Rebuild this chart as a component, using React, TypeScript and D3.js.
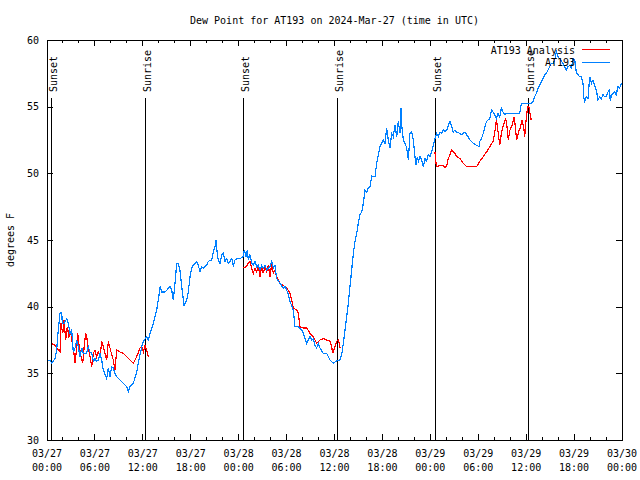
import React from "react";
import * as d3 from "d3";

// ---------- data ----------
const title = "Dew Point for AT193 on 2024-Mar-27 (time in UTC)";
const yLabel = "degrees F";
const startISO = "2024-03-27T00:00:00Z";
const endISO = "2024-03-30T00:00:00Z";
const yTicks = [30, 35, 40, 45, 50, 55, 60];

// hours since 03/27 00:00 UTC
const stationHours = [
  0.0, 0.38, 0.59, 1.0, 1.21, 1.41, 1.63, 1.84, 1.92, 2.13, 2.47, 2.67, 2.88, 3.09, 3.29, 3.51, 3.72, 3.92, 4.13, 4.35,
  4.55, 4.97, 5.17, 5.38, 5.6, 5.8, 6.01, 6.22, 6.42, 6.64, 6.85, 7.05, 7.48, 7.68, 7.89, 8.1, 8.3, 8.51, 8.73, 9.14,
  9.55, 9.98, 10.18, 10.39, 10.81, 11.23, 11.43, 11.86, 12.06, 12.48, 12.68, 12.9, 13.31, 13.74, 14.06, 14.15, 14.36, 14.78, 15.4, 15.61,
  15.82, 16.03, 16.24, 16.44, 16.65, 16.87, 17.16, 17.49, 17.69, 17.91, 18.12, 18.32, 18.75, 18.95, 19.16, 19.37, 19.57, 20.0, 20.2, 20.62,
  20.83, 21.04, 21.16, 21.32, 21.45, 21.66, 21.88, 22.08, 22.29, 22.5, 22.7, 22.92, 23.13, 23.33, 23.54, 23.75, 24.17, 24.58, 24.71, 24.92,
  25.08, 25.21, 25.42, 25.63, 25.83, 26.05, 26.26, 26.46, 26.67, 26.88, 27.08, 27.3, 27.51, 27.92, 28.14, 28.34, 28.55, 28.76, 29.17, 29.59,
  29.8, 30.01, 30.22, 30.43, 30.84, 31.05, 31.47, 31.89, 32.09, 32.52, 32.93, 33.14, 33.35, 33.56, 33.77, 33.97, 34.18, 34.6, 35.02, 35.22,
  35.44, 35.85, 36.28, 36.69, 36.9, 37.1, 37.32, 37.53, 37.73, 37.94, 38.15, 38.36, 38.57, 38.78, 38.98, 39.19, 39.41, 39.61, 39.82, 40.03,
  40.23, 40.45, 40.66, 41.07, 41.28, 41.49, 41.7, 41.91, 42.11, 42.32, 42.53, 42.73, 42.95, 43.16, 43.36, 43.57, 43.79, 43.99, 44.2, 44.33,
  44.45, 44.62, 44.83, 45.04, 45.25, 45.45, 45.66, 45.87, 46.08, 46.2, 46.37, 46.5, 46.71, 46.92, 47.12, 47.33, 47.54, 47.75, 47.96, 48.17,
  48.37, 48.58, 48.79, 49.0, 49.21, 49.42, 49.62, 49.84, 50.05, 50.46, 50.67, 50.87, 51.09, 51.3, 51.71, 51.91, 52.12, 52.33, 52.54, 52.74,
  52.96, 53.37, 53.79, 54.12, 54.2, 54.41, 54.62, 54.83, 55.04, 55.24, 55.45, 55.66, 55.86, 56.07, 56.28, 56.48, 56.69, 56.9, 57.1, 57.32,
  57.53, 57.94, 59.19, 59.4, 60.23, 60.65, 60.86, 61.07, 61.28, 61.49, 61.7, 61.91, 62.11, 62.32, 62.53, 62.73, 62.95, 63.16, 63.36, 63.57,
  63.79, 63.99, 64.2, 64.62, 64.83, 65.04, 65.24, 65.45, 65.66, 65.87, 66.08, 66.29, 66.49, 66.7, 66.91, 67.12, 67.2, 67.33, 67.54, 67.74,
  67.96, 68.17, 68.37, 68.62, 68.79, 68.99, 69.2, 69.41, 69.61, 69.82, 70.03, 70.24, 70.45, 70.53, 70.7, 70.86, 71.07, 71.28, 71.49, 71.7,
  71.95,
];
const stationValues = [
  35.9, 36.0, 35.75, 36.1, 36.75, 38.25, 39.5, 39.55, 38.75, 38.75, 39.1, 38.75, 38.0, 38.25, 36.6, 36.9, 37.5, 37.0, 36.25, 36.9,
  36.5, 36.5, 37.0, 36.6, 36.5, 35.9, 36.1, 35.9, 36.0, 36.5, 36.0, 35.25, 34.6, 35.4, 34.75, 35.5, 35.4, 35.0, 34.75, 34.5,
  34.25, 34.0, 33.6, 34.0, 34.25, 35.1, 35.75, 37.0, 37.4, 37.75, 37.5, 38.0, 38.75, 39.75, 41.0, 41.5, 41.1, 41.1, 41.5, 41.25,
  40.5, 41.75, 43.25, 43.25, 42.75, 41.5, 40.1, 40.5, 41.1, 42.25, 42.9, 43.1, 43.4, 43.1, 42.6, 43.0, 42.9, 43.1, 43.4, 43.5,
  44.1, 44.5, 45.0, 44.0, 43.5, 43.25, 43.9, 44.0, 43.4, 43.6, 43.25, 43.4, 43.6, 43.1, 43.5, 43.6, 43.6, 43.75, 44.25, 43.75,
  44.25, 43.5, 43.9, 43.25, 43.1, 43.4, 43.0, 43.1, 42.75, 43.1, 42.9, 43.1, 42.75, 43.0, 43.4, 42.9, 43.1, 42.1, 41.75, 41.4,
  41.5, 41.25, 40.9, 40.4, 39.75, 38.5, 38.5, 38.25, 38.0, 37.25, 37.75, 37.5, 37.6, 37.1, 36.9, 37.25, 36.9, 36.5, 36.5, 36.25,
  36.0, 35.75, 35.95, 36.0, 36.4, 37.25, 38.25, 39.25, 40.25, 41.5, 42.75, 44.0, 44.9, 45.5, 46.25, 46.9, 47.1, 47.75, 48.75, 48.6,
  48.9, 49.0, 49.8, 49.75, 50.75, 51.4, 52.0, 52.25, 52.5, 52.25, 53.4, 52.5, 51.9, 53.0, 52.75, 53.6, 52.75, 53.9, 53.0, 54.9,
  53.4, 52.5, 52.25, 51.9, 51.0, 53.0, 53.1, 52.5, 51.25, 50.6, 51.25, 50.9, 51.25, 51.0, 50.5, 51.1, 50.9, 51.4, 51.25, 51.6,
  52.1, 52.6, 53.0, 52.75, 53.1, 53.0, 53.25, 53.1, 53.25, 53.9, 53.5, 53.1, 53.25, 53.1, 53.0, 52.9, 53.0, 53.1, 52.9, 52.75,
  52.5, 52.25, 52.1, 52.0, 52.4, 52.6, 53.0, 53.5, 53.9, 54.0, 54.1, 54.75, 54.6, 54.4, 54.1, 54.5, 54.25, 54.9, 54.6, 54.4,
  54.5, 54.5, 54.5, 55.25, 55.25, 55.25, 55.4, 55.75, 56.0, 56.4, 56.6, 56.9, 57.1, 57.4, 57.5, 57.75, 58.0, 58.25, 58.25, 58.5,
  59.1, 58.75, 58.6, 58.25, 58.0, 57.75, 58.0, 58.1, 57.9, 58.6, 58.5, 57.5, 57.4, 57.25, 57.25, 56.75, 55.75, 55.4, 55.75, 55.6,
  57.25, 56.75, 57.0, 56.5, 56.25, 55.5, 55.75, 55.6, 55.9, 55.75, 55.75, 56.1, 56.25, 55.4, 55.9, 56.0, 56.1, 55.9, 56.5, 56.4,
  56.75,
];

// analysis series (null = gap)
const analysisHours = [
  0.59, 1.0, 1.21, 1.41, 1.63, 1.75, 1.97, 2.13, 2.34, 2.54, 2.75, 2.97, 3.17, 3.38, 3.51, 3.72, 3.84, 4.04, 4.26, 4.47,
  4.67, 4.85, 4.97, 5.17, 5.38, 5.6, 5.8, 6.01, 6.22, 6.42, 6.64, 6.85, 7.05, 7.26, 7.48, 7.68, 7.89, 8.1, 8.3, 8.51,
  8.73, 9.14, 9.55, 9.98, 10.39, 10.81, 11.23, 11.65, 11.86, 12.06, 12.27, 12.48, 12.68, 18.0,
  24.58, 24.92, 25.21, 25.42, 25.63, 25.83, 26.05, 26.26, 26.46, 26.67, 26.88, 27.08, 27.3, 27.51, 27.71, 27.92, 28.14, 28.34, 28.55, 28.76,
  29.17, 29.59, 30.01, 30.43, 30.63, 30.84, 31.26, 31.47, 31.68, 32.09, 32.52, 32.93, 33.35, 33.77, 34.18, 34.6, 35.02, 35.44, 35.65, 35.77,
  36.06, 36.28, 36.48, 36.6, 36.69, 42.0,
  48.58, 48.71, 48.79, 49.21, 49.62, 49.84, 50.05, 50.25, 50.46, 50.67, 50.87, 51.09, 51.3, 51.71, 52.12, 52.54, 52.96, 53.37, 53.79, 54.2,
  54.62, 55.04, 55.45, 55.86, 56.07, 56.28, 56.48, 56.69, 56.9, 57.1, 57.44, 57.6, 57.76, 57.97, 58.22, 58.51, 58.64, 58.8, 59.05, 59.3,
  59.51, 59.73, 59.81, 60.01, 60.18, 60.34, 60.47, 60.63,
];
const analysisValues: (number | null)[] = [
  37.25, 37.1, 36.9, 36.75, 36.6, 38.75, 38.0, 39.0, 37.5, 38.5, 37.75, 38.1, 37.25, 36.5, 35.75, 36.9, 38.0, 37.0, 36.25, 35.75,
  37.1, 38.0, 37.75, 36.9, 36.25, 35.5, 36.5, 36.75, 36.25, 36.6, 36.25, 37.4, 37.0, 36.5, 36.0, 37.4, 36.9, 36.4, 36.0, 35.25,
  36.75, 36.6, 36.5, 36.25, 36.0, 35.75, 36.25, 36.9, 37.0, 36.6, 37.1, 36.75, 36.25, null,
  42.9, 43.0, 43.25, 43.4, 42.9, 42.5, 42.9, 42.6, 43.1, 42.25, 43.0, 42.5, 43.0, 42.6, 43.1, 42.25, 43.25, 42.5, 42.75, 42.25,
  41.75, 41.6, 41.4, 41.0, 40.5, 39.9, 39.75, 39.5, 38.5, 38.4, 38.4, 38.0, 37.75, 37.25, 37.5, 37.6, 37.5, 37.4, 37.0, 36.5,
  37.0, 37.4, 37.5, 37.25, 36.9, null,
  51.6, 50.75, 50.5, 50.6, 50.6, 50.4, 50.6, 51.1, 51.4, 51.75, 51.6, 51.5, 51.25, 51.1, 50.75, 50.5, 50.5, 50.5, 50.5, 50.9,
  51.25, 51.6, 52.0, 52.4, 53.1, 54.0, 53.1, 52.1, 53.0, 53.5, 54.1, 53.5, 52.5, 53.25, 53.6, 54.25, 53.5, 52.5, 53.1, 53.5,
  54.0, 53.25, 52.75, 54.1, 55.0, 55.0, 54.5, 54.0,
];

const sunHours = [0.5, 12.27, 24.54, 36.3, 48.6, 60.2];
const sunLabels = ["Sunset", "Sunrise", "Sunset", "Sunrise", "Sunset", "Sunrise"];

const seriesNames = ["AT193 Analysis", "AT193"];
const seriesColors = ["#ff0000", "#0080ff"];

// ---------- layout ----------
const W = 640;
const H = 480;
const M = { left: 47, right: 622, top: 40, bottom: 440 };
const FONT = "'DejaVu Sans Mono', 'Liberation Mono', monospace";

export default function App() {
  const start = new Date(startISO);
  const end = new Date(endISO);
  const toDate = (h: number) => new Date(start.getTime() + h * 3600 * 1000);

  const x = d3.scaleUtc().domain([start, end]).range([M.left, M.right]);
  const y = d3.scaleLinear().domain([30, 60]).range([M.bottom, M.top]);

  const majorTicks = x.ticks(d3.utcHour.every(6)!);
  const minorTicks = x.ticks(d3.utcHour.every(2)!);
  const fmtDate = d3.utcFormat("%m/%d");
  const fmtTime = d3.utcFormat("%H:%M");

  const stationData = stationHours.map((h, i) => ({ t: toDate(h), v: stationValues[i] as number | null }));
  const analysisData = analysisHours.map((h, i) => ({ t: toDate(h), v: analysisValues[i] }));

  const line = d3
    .line<{ t: Date; v: number | null }>()
    .defined((d) => d.v !== null)
    .x((d) => x(d.t))
    .y((d) => y(d.v as number));

  return (
    <svg
      width={W}
      height={H}
      style={{ position: "absolute", left: 0, top: 0, background: "#fff" }}
      fontFamily={FONT}
      fontSize={10}
    >
      <rect x={0} y={0} width={W} height={H} fill="#fff" />
      <defs>
        <clipPath id="plot">
          <rect x={M.left} y={M.top} width={M.right - M.left} height={M.bottom - M.top} />
        </clipPath>
      </defs>

      {/* title */}
      <text x={(M.left + M.right) / 2} y={24} textAnchor="middle" fill="#000">
        {title}
      </text>

      {/* y label */}
      <text transform={`translate(14,${(M.top + M.bottom) / 2}) rotate(-90)`} textAnchor="middle" fill="#000">
        {yLabel}
      </text>

      {/* y ticks */}
      {yTicks.map((t) => (
        <g key={`y${t}`}>
          <line x1={M.left} x2={M.left + 6} y1={y(t) + 0.5} y2={y(t) + 0.5} stroke="#000" shapeRendering="crispEdges" />
          <line x1={M.right} x2={M.right - 6} y1={y(t) + 0.5} y2={y(t) + 0.5} stroke="#000" shapeRendering="crispEdges" />
          <text x={39} y={y(t) + 3.5} textAnchor="end" fill="#000">
            {t}
          </text>
        </g>
      ))}

      {/* x minor ticks */}
      {minorTicks.map((t, i) => (
        <g key={`mx${i}`}>
          <line x1={x(t)} x2={x(t)} y1={M.bottom} y2={M.bottom - 3} stroke="#000" shapeRendering="crispEdges" />
          <line x1={x(t)} x2={x(t)} y1={M.top} y2={M.top + 3} stroke="#000" shapeRendering="crispEdges" />
        </g>
      ))}
      {/* x major ticks */}
      {majorTicks.map((t, i) => (
        <g key={`x${i}`}>
          <line x1={x(t)} x2={x(t)} y1={M.bottom} y2={M.bottom - 6} stroke="#000" shapeRendering="crispEdges" />
          <line x1={x(t)} x2={x(t)} y1={M.top} y2={M.top + 6} stroke="#000" shapeRendering="crispEdges" />
          <text x={x(t)} y={457} textAnchor="middle" fill="#000">
            {fmtDate(t)}
          </text>
          <text x={x(t)} y={471} textAnchor="middle" fill="#000">
            {fmtTime(t)}
          </text>
        </g>
      ))}

      {/* sun events */}
      {sunHours.map((h, i) => {
        const sx = Math.round(x(toDate(h))) + 0.5;
        return (
          <g key={`s${i}`}>
            <line x1={sx} x2={sx} y1={98} y2={M.bottom} stroke="#000" strokeWidth={1} shapeRendering="crispEdges" />
            <text transform={`translate(${sx + 5},92) rotate(-90)`} textAnchor="start" fill="#000">
              {sunLabels[i]}
            </text>
          </g>
        );
      })}

      {/* series */}
      <g clipPath="url(#plot)">
        <path d={line(analysisData) || ""} fill="none" stroke={seriesColors[0]} strokeWidth={1.2} shapeRendering="crispEdges" />
        <path d={line(stationData) || ""} fill="none" stroke={seriesColors[1]} strokeWidth={1.2} shapeRendering="crispEdges" />
      </g>

      {/* legend */}
      {seriesNames.map((n, i) => (
        <g key={`l${i}`}>
          <text x={575} y={53.5 + i * 12.5} textAnchor="end" fill="#000">
            {n}
          </text>
          <line
            x1={582}
            x2={610}
            y1={49.5 + i * 12.5}
            y2={49.5 + i * 12.5}
            stroke={seriesColors[i]}
            strokeWidth={1}
            shapeRendering="crispEdges"
          />
        </g>
      ))}

      {/* frame */}
      <rect
        x={M.left + 0.5}
        y={M.top + 0.5}
        width={M.right - M.left}
        height={M.bottom - M.top}
        fill="none"
        stroke="#000"
        strokeWidth={1}
        shapeRendering="crispEdges"
      />
    </svg>
  );
}
